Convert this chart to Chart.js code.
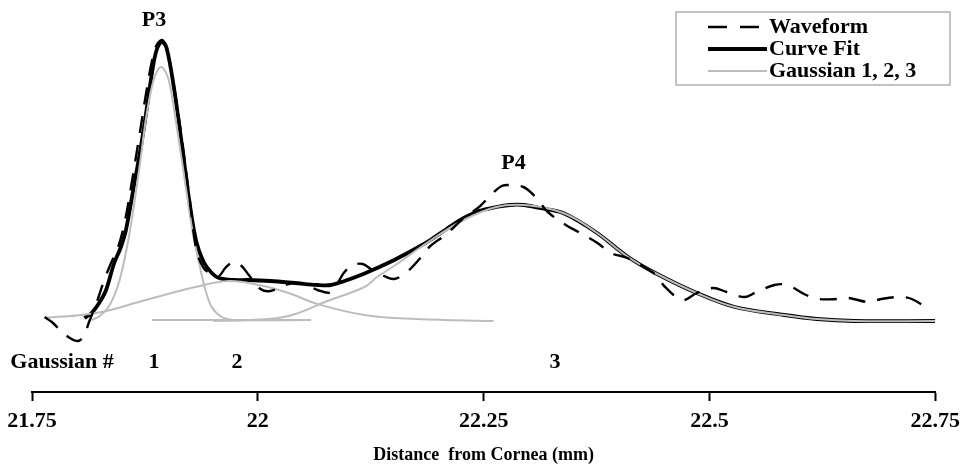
<!DOCTYPE html>
<html>
<head>
<meta charset="utf-8">
<script src="https://cdn.jsdelivr.net/npm/chart.js@4.4.1/dist/chart.umd.min.js"></script>
<style>
html,body{margin:0;padding:0;background:#fff;}
#c{display:block;}
</style>
</head>
<body>
<canvas id="c" width="967" height="471"></canvas>
<script>
// ---- Data (x: distance from cornea in mm, y: amplitude, arbitrary units) ----
const waveformX = [21.764,21.772,21.781,21.792,21.801,21.807,21.814,21.821,21.830,21.838,21.845,21.852,21.860,21.869,21.876,21.883,21.888,21.894,21.899,21.907,21.916,21.924,21.932,21.940,21.949,21.957,21.964,21.973,21.982,21.990,22.003,22.014,22.034,22.052,22.066,22.081,22.096,22.106,22.116,22.127,22.140,22.151,22.165,22.180,22.191,22.209,22.228,22.245,22.259,22.270,22.279,22.294,22.303,22.312,22.321,22.341,22.355,22.376,22.391,22.409,22.438,22.451,22.470,22.486,22.504,22.519,22.539,22.552,22.572,22.586,22.607,22.621,22.641,22.654,22.676,22.690,22.709,22.724,22.744];
const waveformY = [4,-1,-9,-17,-20,-15,1,17,41,59,73,96,136,186,226,261,276,281,273,236,181,126,71,53,47,45,53,59,55,46,32,30,37,37,31,29,49,56,57,51,45,42,49,63,75,87,103,114,127,135,136,134,128,119,109,96,89,78,68,63,48,34,21,28,33,29,24,29,36,36,26,22,22,23,19,22,24,22,11];

const fitX = [21.808,21.816,21.825,21.832,21.841,21.848,21.854,21.863,21.870,21.876,21.883,21.888,21.894,21.899,21.907,21.916,21.924,21.932,21.940,21.949,21.957,21.973,21.990,22.014,22.041,22.066,22.081,22.096,22.114,22.132,22.151,22.176,22.191,22.209,22.228,22.245,22.264,22.279,22.294,22.312,22.338,22.374,22.410,22.440,22.486,22.528,22.583,22.619,22.660,22.750];
const fitY = [3,8,19,31,58,73,91,136,171,206,249,271,279,273,234,176,121,79,59,48,43,41,41,40,38,36,36,40,46,53,61,73,81,92,103,110,114,116,116,113,108,89,64,48,28,14,6,2,0,0];

const gauss1X = [21.816,21.825,21.836,21.847,21.858,21.869,21.877,21.885,21.893,21.901,21.908,21.917,21.928,21.935,21.942,21.949,21.960,21.973,22.059];
const gauss1Y = [1,5,16,41,88,154,207,242,254,242,207,154,88,58,31,14,4,1,1];
const gauss1BaseX = [21.883,22.059];
const gauss1BaseY = [1,1];

const gauss2X = [21.764,21.821,21.876,21.931,21.968,22.001,22.034,22.066,22.118,22.176,22.261];
const gauss2Y = [3,8,21,34,40,36,28,17,6,2,0];

const gauss3X = [21.951,21.990,22.034,22.077,22.118,22.132,22.154,22.187,22.228,22.264,22.294,22.338,22.374,22.410,22.440,22.486,22.528,22.583,22.619,22.660,22.750];
const gauss3Y = [0,1,5,20,34,44,57,78,101,114,116,108,89,64,48,28,14,6,2,0,0];

const xTickValues = [21.75, 22, 22.25, 22.5, 22.75];
const xTickLabels = ['21.75', '22', '22.25', '22.5', '22.75'];
const xTitle = 'Distance  from Cornea (mm)';

const peakLabels = ['P3', 'P4'];
const peakLabelX = [21.885, 22.283];
const peakLabelY = [301, 158];

const gaussNumLabels = ['1', '2', '3'];
const gaussNumX = [21.885, 21.977, 22.329];
const gaussRowTitle = 'Gaussian #';
const gaussRowTitleX = 21.726;
const gaussRowY = -41;

const legendLabels = ['Waveform', 'Curve Fit', 'Gaussian 1, 2, 3'];

// ---- Build ----
const pts = (xs, ys) => xs.map((x, i) => ({x: x, y: ys[i]}));
const gauss1Data = pts(gauss1X, gauss1Y).concat([{x: gauss1BaseX[0], y: null}], pts(gauss1BaseX, gauss1BaseY));

const GRAY = '#bdbdbd';
const FONT = '"Liberation Serif", "Times New Roman", serif';

const legendPlugin = {
  id: 'customText',
  afterDraw(chart) {
    const ctx = chart.ctx;
    const xs = chart.scales.x, ys = chart.scales.y;
    ctx.save();
    ctx.fillStyle = '#000';
    ctx.textBaseline = 'middle';
    ctx.font = 'bold 22px ' + FONT;
    ctx.textAlign = 'center';
    peakLabels.forEach((t, i) => ctx.fillText(t, xs.getPixelForValue(peakLabelX[i]), ys.getPixelForValue(peakLabelY[i])));
    gaussNumLabels.forEach((t, i) => ctx.fillText(t, xs.getPixelForValue(gaussNumX[i]), ys.getPixelForValue(gaussRowY)));
    ctx.textAlign = 'left';
    ctx.fillText(gaussRowTitle, xs.getPixelForValue(gaussRowTitleX), ys.getPixelForValue(gaussRowY));

    // legend box
    const bx = 676, by = 12, bw = 274, bh = 73;
    ctx.strokeStyle = '#b0b0b0';
    ctx.lineWidth = 1.5;
    ctx.strokeRect(bx, by, bw, bh);
    const rows = [27, 49, 71];
    const styles = [
      {c: '#000', w: 2.6, d: [19, 13]},
      {c: '#000', w: 4, d: []},
      {c: GRAY, w: 2, d: []}
    ];
    ctx.font = 'bold 22px ' + FONT;
    legendLabels.forEach((t, i) => {
      const s = styles[i];
      ctx.beginPath();
      ctx.strokeStyle = s.c;
      ctx.lineWidth = s.w;
      ctx.setLineDash(s.d);
      ctx.moveTo(708, rows[i]);
      ctx.lineTo(767, rows[i]);
      ctx.stroke();
      ctx.setLineDash([]);
      ctx.fillStyle = '#000';
      ctx.fillText(t, 769, rows[i]);
    });
    ctx.restore();
  }
};

new Chart(document.getElementById('c'), {
  type: 'scatter',
  data: {
    datasets: [
      {label: 'Waveform', data: pts(waveformX, waveformY), showLine: true, borderColor: '#000', borderWidth: 2.4, borderDash: [17, 12], pointRadius: 0, tension: 0.35, order: 0},
      {label: 'Gaussian 1', data: gauss1Data, showLine: true, borderColor: GRAY, borderWidth: 2, pointRadius: 0, tension: 0.35, spanGaps: false, order: 1},
      {label: 'Gaussian 2', data: pts(gauss2X, gauss2Y), showLine: true, borderColor: GRAY, borderWidth: 2, pointRadius: 0, tension: 0.4, order: 1},
      {label: 'Gaussian 3', data: pts(gauss3X, gauss3Y), showLine: true, borderColor: GRAY, borderWidth: 2, pointRadius: 0, tension: 0.4, order: 1},
      {label: 'Curve Fit', data: pts(fitX, fitY), showLine: true, borderColor: '#000', borderWidth: 3.8, pointRadius: 0, tension: 0.35, order: 2}
    ]
  },
  options: {
    responsive: false,
    animation: false,
    devicePixelRatio: 1,
    layout: {padding: {top: 10, left: 32, right: 25, bottom: 0}},
    plugins: {legend: {display: false}, tooltip: {enabled: false}},
    scales: {
      x: {
        type: 'linear',
        position: 'bottom',
        min: 21.75,
        max: 22.75,
        afterBuildTicks: (s) => { s.ticks = xTickValues.map(v => ({value: v})); },
        afterFit: (s) => { s.height = 79; },
        border: {display: true, color: '#000', width: 2},
        grid: {display: true, drawOnChartArea: false, drawTicks: true, tickLength: 9, tickColor: '#000', tickWidth: 2, color: '#000'},
        ticks: {
          color: '#000', padding: 7, maxRotation: 0, autoSkip: false,
          font: {family: FONT, size: 22, weight: 'bold'},
          callback: (v) => { const i = xTickValues.indexOf(v); return i >= 0 ? xTickLabels[i] : ''; }
        },
        title: {display: true, text: xTitle, color: '#000', font: {family: FONT, size: 18, weight: 'bold'}, padding: {top: 4, bottom: 5}}
      },
      y: {
        display: false,
        min: -71,
        max: 311
      }
    }
  },
  plugins: [legendPlugin]
});
</script>
</body>
</html>
